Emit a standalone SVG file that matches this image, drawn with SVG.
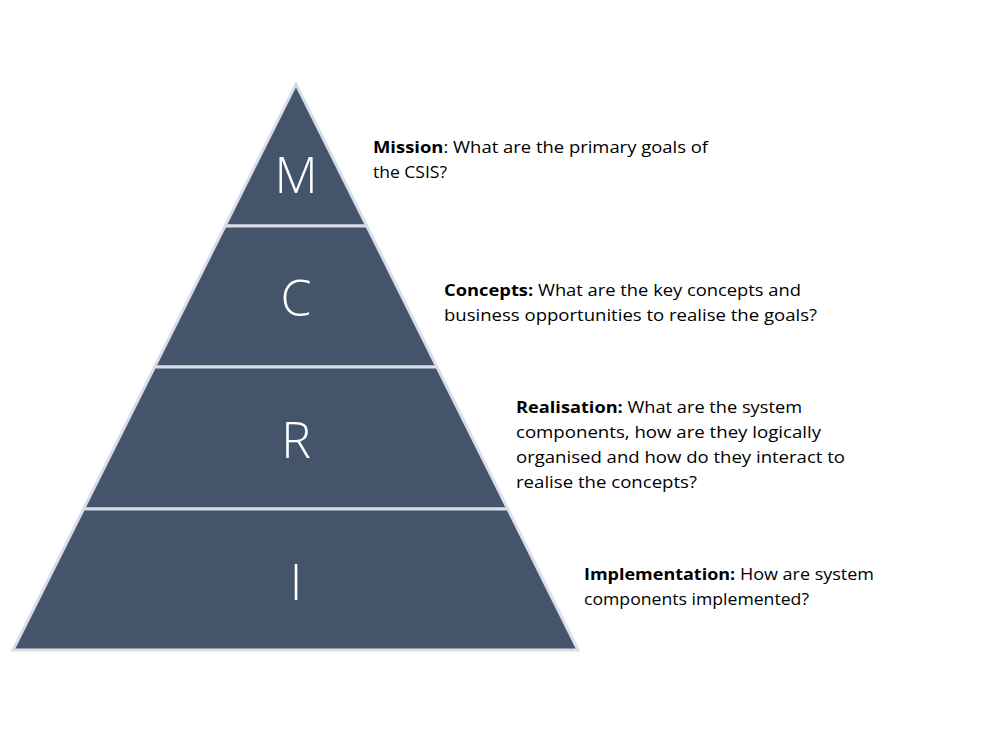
<svg xmlns="http://www.w3.org/2000/svg" width="1008" height="756" viewBox="0 0 1008 756">
<style>
.seg{fill:#44546A;stroke:#D9DFE7;stroke-width:3;stroke-linejoin:miter}
.big{font-family:"Open Sans","Liberation Sans",sans-serif;font-weight:300;font-size:50px;fill:#FFFFFF;text-anchor:middle}
.t{font-family:"Open Sans","Liberation Sans",sans-serif;font-size:16px;fill:#000000}
.b{font-weight:bold}
</style>
<rect width="1008" height="756" fill="#FFFFFF"/>
<g id="node-M">
<polygon class="seg" points="296,84 366.8,226 225,226"/>
<text class="big" x="296" y="193">M</text>
</g>
<g id="node-C">
<polygon class="seg" points="225,226 366.8,226 437,367 154.5,367"/>
<text class="big" x="296" y="316">C</text>
</g>
<g id="node-R">
<polygon class="seg" points="154.5,367 437,367 507.8,509 83.5,509"/>
<text class="big" x="296" y="458">R</text>
</g>
<g id="node-I">
<polygon class="seg" points="83.5,509 507.8,509 578,650 13,650"/>
<text class="big" x="296" y="600">I</text>
</g>
<g id="labels">
<g id="label-mission">
<text class="t" x="373" y="153" textLength="335" lengthAdjust="spacingAndGlyphs"><tspan class="b">Mission</tspan>: What are the primary goals of</text>
<text class="t" x="373" y="178" textLength="74" lengthAdjust="spacingAndGlyphs">the CSIS?</text>
</g>
<g id="label-concepts">
<text class="t" x="444" y="296" textLength="357" lengthAdjust="spacingAndGlyphs"><tspan class="b">Concepts:</tspan> What are the key concepts and</text>
<text class="t" x="444" y="321" textLength="373" lengthAdjust="spacingAndGlyphs">business opportunities to realise the goals?</text>
</g>
<g id="label-realisation">
<text class="t" x="516" y="413" textLength="286" lengthAdjust="spacingAndGlyphs"><tspan class="b">Realisation:</tspan> What are the system</text>
<text class="t" x="516" y="438" textLength="305" lengthAdjust="spacingAndGlyphs">components, how are they logically</text>
<text class="t" x="516" y="463" textLength="329" lengthAdjust="spacingAndGlyphs">organised and how do they interact to</text>
<text class="t" x="516" y="488" textLength="181" lengthAdjust="spacingAndGlyphs">realise the concepts?</text>
</g>
<g id="label-implementation">
<text class="t" x="584" y="580" textLength="290" lengthAdjust="spacingAndGlyphs"><tspan class="b">Implementation:</tspan> How are system</text>
<text class="t" x="584" y="605" textLength="225" lengthAdjust="spacingAndGlyphs">components implemented?</text>
</g>
</g>
</svg>
